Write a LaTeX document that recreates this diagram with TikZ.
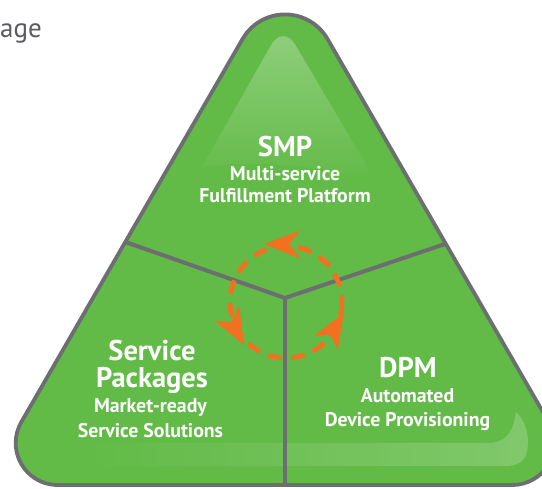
\documentclass[tikz,border=0pt]{standalone}
\usepackage{fontspec}
\setmainfont{PT Sans}
\usetikzlibrary{fadings}
\definecolor{tgreen}{HTML}{62BB47}
\definecolor{tgray}{HTML}{6D6E71}
\definecolor{torange}{HTML}{F37021}
\definecolor{ttext}{HTML}{5A5B5E}
\tikzset{
  outline/.style={draw=tgray, line width=3.8pt, fill=tgreen},
  divider/.style={draw=tgray, line width=4pt},
  ttl/.style={text=white, font=\fontsize{28.5}{28.5}\selectfont\bfseries, anchor=base, inner sep=0pt},
  sub/.style={text=white, font=\fontsize{19.8}{19.8}\selectfont\bfseries, anchor=base, inner sep=0pt},
  cycle dash/.style={draw=torange, line width=4.8pt, dash pattern=on 14pt off 9pt},
  arrowhead/.style={fill=torange},
}
\begin{document}
\begin{tikzpicture}[x=1pt,y=-1pt]
\useasboundingbox (0,0) rectangle (542,489);
% triangle body
\path[outline] (57.7,485) arc[start angle=90,end angle=210,radius=42]
  -- (242.6,38.9) arc[start angle=210,end angle=330,radius=49]
  -- (548.7,422) arc[start angle=330,end angle=450,radius=42] -- cycle;
% top highlight
\fill[white, fill opacity=0.3, path fading=south]
  (202,167) [rounded corners=24pt] -- (283,24) -- (377,183) [sharp corners]
  .. controls (320,166) and (250,160) .. (202,167) -- cycle;
% bottom highlight
\fill[white, fill opacity=0.2, path fading=west]
  (95,443) -- (488,443) .. controls (508,443) and (515,428) .. (516,412)
  .. controls (524,418) and (530,432) .. (528,448)
  .. controls (527,460) and (520,466) .. (505,466) -- (95,466)
  .. controls (84,466) and (84,443) .. (95,443) -- cycle;
% dividers
\coordinate (j) at (285,298);
\coordinate (le) at (125.4,242);
\coordinate (re) at (445,244);
\coordinate (be) at (285,485);
\draw[divider] (le) -- (j) -- (re);
\draw[divider] (j) -- (be);
% cycle
\coordinate (cc) at (286,302);
\draw[cycle dash] (cc) circle[radius=56];
\fill[arrowhead] (264.5,244) -- (300,230.5) -- (289.3,244.4) -- (300,258.5) -- cycle;
\fill[arrowhead] (244,345) -- (214.5,320.5) -- (231.5,322.5) -- (239,305.5) -- cycle;
\fill[arrowhead] (344,313) -- (337.5,350) -- (330.5,334) -- (313,336.5) -- cycle;
% texts
\node[ttl] (smp) at (285,157) {SMP};
\node[sub] (smp1) at (285,181) {Multi-service};
\node[sub] (smp2) at (285,203) {Fulfillment Platform};
\node[ttl] (sp1) at (152,361) {Service};
\node[ttl] (sp2) at (152,388) {Packages};
\node[sub] (sp3) at (150.5,413) {Market-ready};
\node[sub] (sp4) at (150.5,438) {Service Solutions};
\node[ttl] (dpm) at (408,378) {DPM};
\node[sub] (dpm1) at (407.5,403) {Automated};
\node[sub] (dpm2) at (407.5,427) {Device Provisioning};
\node[text=ttext, font=\fontsize{27}{27}\selectfont, anchor=base east, inner sep=0pt] (cut) at (42,38) {nage};
\end{tikzpicture}
\end{document}
